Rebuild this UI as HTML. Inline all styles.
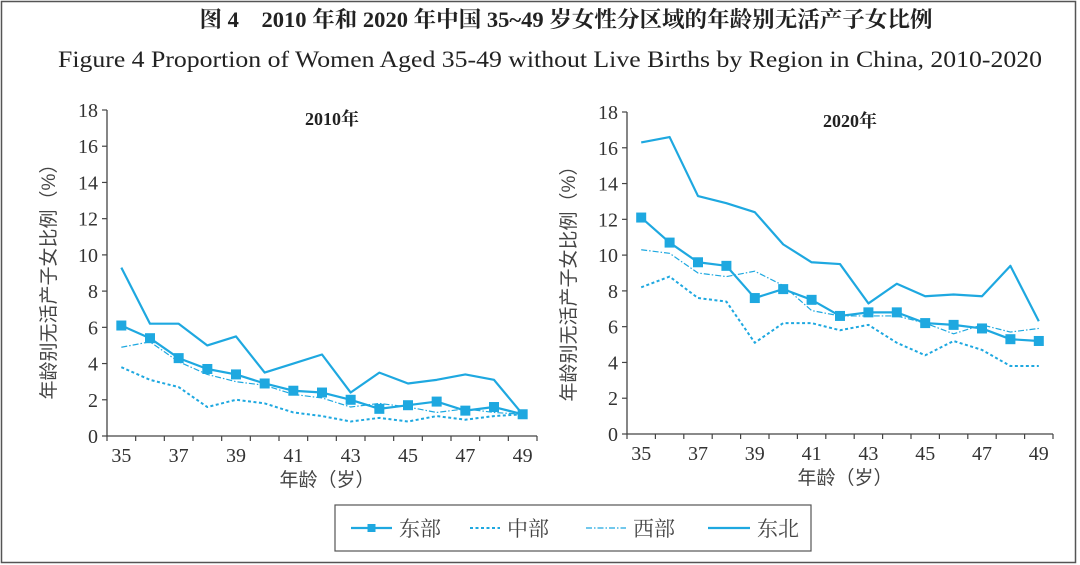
<!DOCTYPE html>
<html><head><meta charset="utf-8"><style>
html,body{margin:0;padding:0;background:#fff;width:1080px;height:565px;overflow:hidden}
svg{display:block}
</style></head><body>
<svg id="c" width="1080" height="565" xmlns="http://www.w3.org/2000/svg">
<rect x="1.5" y="1.5" width="1074" height="561" fill="none" stroke="#555" stroke-width="1.5"/>
<text x="566" y="27" text-anchor="middle" font-family="'Liberation Serif','Noto Serif CJK SC',serif" font-weight="bold" font-size="22" textLength="733" lengthAdjust="spacingAndGlyphs" fill="#222">图 4　2010 年和 2020 年中国 35~49 岁女性分区域的年龄别无活产子女比例</text>
<text x="550" y="67" text-anchor="middle" font-family="'Liberation Serif',serif" font-size="23" textLength="984" lengthAdjust="spacingAndGlyphs" fill="#222">Figure 4   Proportion of Women Aged 35-49 without Live Births by Region in China, 2010-2020</text>
<g id="legend">
<rect x="335" y="505" width="476" height="46" fill="#fff" stroke="#555" stroke-width="1.2"/>
</g>
</svg>
<script>
const ages=[35,36,37,38,39,40,41,42,43,44,45,46,47,48,49];
const yTicks=[0,2,4,6,8,10,12,14,16,18];
const xTickLabels=[35,37,39,41,43,45,47,49];
const east2010=[6.1,5.4,4.3,3.7,3.4,2.9,2.5,2.4,2.0,1.5,1.7,1.9,1.4,1.6,1.2];
const central2010=[3.8,3.1,2.7,1.6,2.0,1.8,1.3,1.1,0.8,1.0,0.8,1.1,0.9,1.1,1.2];
const west2010=[4.9,5.2,4.1,3.4,3.0,2.8,2.3,2.1,1.6,1.8,1.6,1.3,1.5,1.3,1.2];
const ne2010=[9.3,6.2,6.2,5.0,5.5,3.5,4.0,4.5,2.4,3.5,2.9,3.1,3.4,3.1,1.2];
const east2020=[12.1,10.7,9.6,9.4,7.6,8.1,7.5,6.6,6.8,6.8,6.2,6.1,5.9,5.3,5.2];
const central2020=[8.2,8.8,7.6,7.4,5.1,6.2,6.2,5.8,6.1,5.1,4.4,5.2,4.7,3.8,3.8];
const west2020=[10.3,10.1,9.0,8.8,9.1,8.3,6.9,6.6,6.6,6.6,6.2,5.6,6.1,5.7,5.9];
const ne2020=[16.3,16.6,13.3,12.9,12.4,10.6,9.6,9.5,7.3,8.4,7.7,7.8,7.7,9.4,6.3];

const NS='http://www.w3.org/2000/svg';
const svg=document.getElementById('c');
const COL='#1ea8e0';
function mk(tag,attrs,parent){const e=document.createElementNS(NS,tag);for(const k in attrs)e.setAttribute(k,attrs[k]);(parent||svg).appendChild(e);return e;}
const SERIF="'Liberation Serif','Noto Serif CJK SC',serif";
const SANS="'Liberation Sans','Noto Sans CJK SC',sans-serif";
const styles={
 ne:{w:2.2,dash:null},
 east:{w:2.2,dash:null,marker:true},
 west:{w:1.2,dash:'6 2 1.5 2'},
 central:{w:2,dash:'3 2.5'}
};
function panel(name,x0,x1,y0,y18,title,data){
  const g=mk('g',{});
  
  
  const bw=(x1-x0)/ages.length;
  const xs=i=>x0+bw*(i+0.5);
  const ys=v=>y0-(y0-y18)*v/18;
  const ax=mk('path',{d:`M${x0},${y18} V${y0} H${x1}`,stroke:'#444','stroke-width':1.3,fill:'none'},g);
  
  
  yTicks.forEach(t=>{
    const l=mk('line',{x1:x0-5,x2:x0,y1:ys(t),y2:ys(t),stroke:'#444','stroke-width':1.2},g);
    
    
    const tx=mk('text',{x:x0-9,y:ys(t)+7,'text-anchor':'end','font-family':SERIF,'font-size':20,fill:'#333'},g);
    tx.textContent=t;
    
    
  });
  for(let i=0;i<=ages.length;i++){
    const l=mk('line',{x1:x0+bw*i,x2:x0+bw*i,y1:y0,y2:y0+5,stroke:'#444','stroke-width':1.2},g);
    
    
  }
  xTickLabels.forEach(a=>{
    const i=ages.indexOf(a);
    const tx=mk('text',{x:xs(i),y:y0+26,'text-anchor':'middle','font-family':SERIF,'font-size':20,fill:'#333'},g);
    tx.textContent=a;
    
    
  });
  const xt=mk('text',{x:(x0+x1)/2+5,y:y0+50,'text-anchor':'middle','font-family':SANS,'font-size':19,fill:'#444'},g);
  xt.textContent='年龄（岁）';
  
  
  const yc=y18+167;
  const yt=mk('text',{x:0,y:0,'text-anchor':'middle','font-family':SANS,'font-size':19,fill:'#444',transform:`translate(${x0-52},${yc}) rotate(-90)`},g);
  yt.textContent='年龄别无活产子女比例（%）';
  
  
  const tt=mk('text',{x:(x0+x1)/2+10,y:y18+15,'text-anchor':'middle','font-family':SERIF,'font-weight':'bold','font-size':18,fill:'#222'},g);
  tt.textContent=title;
  
  
  ['central','west','ne','east'].forEach(k=>{
    const s=styles[k],vals=data[k];
    const p=mk('polyline',{points:vals.map((v,i)=>xs(i)+','+ys(v)).join(' '),fill:'none',stroke:COL,'stroke-width':s.w,'stroke-linejoin':'round'},g);
    if(s.dash)p.setAttribute('stroke-dasharray',s.dash);
    
    
    if(s.marker)vals.forEach((v,i)=>{
      const r=mk('rect',{x:xs(i)-5,y:ys(v)-5,width:10,height:10,fill:COL},g);
      
      
    });
  });
}
panel('chart-2010',107,537,436,110,'2010年',{east:east2010,central:central2010,west:west2010,ne:ne2010});
panel('chart-2020',627,1053,434,112,'2020年',{east:east2020,central:central2020,west:west2020,ne:ne2020});

const lg=document.getElementById('legend');
const items=[['东部',351,392,'east'],['中部',470,500,'central'],['西部',586,626,'west'],['东北',708,750,'ne']];
items.forEach(([lab,a,b,k])=>{
  const s=styles[k];
  const l=mk('line',{x1:a,x2:b,y1:528,y2:528,stroke:COL,'stroke-width':s.w},lg);
  if(s.dash)l.setAttribute('stroke-dasharray',s.dash);
  
  
  if(s.marker){const r=mk('rect',{x:(a+b)/2-4,y:524,width:8,height:8,fill:COL},lg);
    
    }
  const t=mk('text',{x:b+7,y:536,'font-family':SERIF,'font-size':21,fill:'#444'},lg);
  t.textContent=lab;
  
  
});
</script>
</body></html>
